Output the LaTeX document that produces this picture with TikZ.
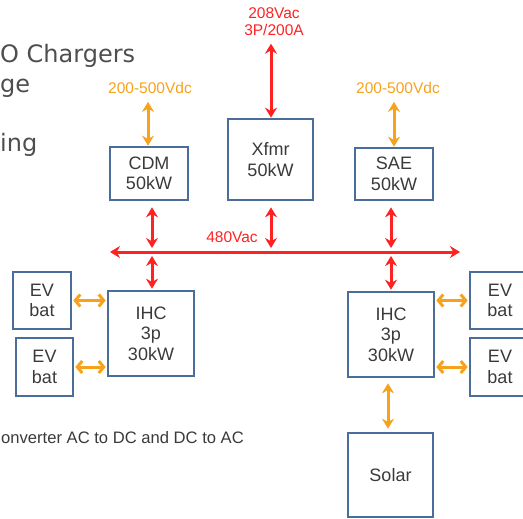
\documentclass[tikz,border=0pt]{standalone}
\usepackage{fontspec}
\setmainfont{Liberation Sans}
\newfontfamily\titlefont{DejaVu Sans}
\usetikzlibrary{arrows.meta}
\definecolor{boxblue}{HTML}{4A6D9A}
\definecolor{busred}{HTML}{FF2222}
\definecolor{dcorange}{HTML}{F7A21B}
\definecolor{txtgray}{HTML}{3A3A3A}

\begin{document}
\begin{tikzpicture}[x=1pt,y=-1pt,
  every node/.style={font=\fontsize{18}{20.5}\selectfont,text=txtgray,align=center,inner sep=0pt},
  blk/.style n args={2}{draw=boxblue,line width=2.6pt,minimum width=#1,minimum height=#2},
  lbl/.style={font=\fontsize{15.5}{17}\selectfont},
  ttl/.style={font=\titlefont\fontsize{24}{28}\selectfont,text=txtgray!90,anchor=base west},
  rarrow/.style={draw=busred,line width=3pt,{Stealth[length=10pt,width=12pt]}-{Stealth[length=10pt,width=12pt]}},
  oarrow/.style={draw=dcorange,line width=3pt,{Stealth[length=10pt,width=12pt]}-{Stealth[length=10pt,width=12pt]}},
  ohrrow/.style={draw=dcorange,line width=3pt,{Straight Barb[length=5pt,width=12pt]}-{Straight Barb[length=5pt,width=12pt]}}]
\useasboundingbox (0,0) rectangle (523,519);
\clip (0,0) rectangle (523,519);

% title lines
\node[ttl] (tline1) at (0,63) {O Chargers};
\node[ttl] (tline2) at (0,93) {ge};
\node[ttl] (tline3) at (0,152) {ing};
\node[anchor=west,font=\fontsize{16.6}{18}\selectfont] (note) at (1,438) {onverter AC to DC and DC to AC};

% converters
\node[blk={78pt}{53pt}] (cdm) at (149,173.5) {CDM\\50kW};
\node[blk={85pt}{81pt}] (xfmr) at (270.5,159.5) {Xfmr\\50kW};
\node[blk={78pt}{52pt}] (sae) at (394,174) {SAE\\50kW};
\node[blk={86pt}{85pt}] (ihcL) at (151,333.5) {IHC\\3p\\30kW};
\node[blk={86pt}{85pt}] (ihcR) at (391,334.5) {IHC\\3p\\30kW};
\node[blk={85pt}{84pt}] (solar) at (390.5,475) {Solar};

% batteries
\node[blk={58pt}{57pt}] (evL1) at (42,300.5) {EV\\bat};
\node[blk={57pt}{58pt}] (evL2) at (44.5,367) {EV\\bat};
\node[blk={60pt}{57pt}] (evR1) at (500,300.5) {EV\\bat};
\node[blk={60pt}{58pt}] (evR2) at (500,367) {EV\\bat};

% voltage labels
\node[lbl,text=dcorange] (vdcL) at (150,88) {200-500Vdc};
\node[lbl,text=dcorange] (vdcR) at (398,88) {200-500Vdc};
\node[lbl,text=busred] (grid) at (274,21.5) {208Vac\\3P/200A};
\node[lbl,text=busred] (busV) at (232,237) {480Vac};

% 480Vac bus
\coordinate (busW) at (110,252);
\coordinate (busE) at (460,252);
\coordinate (tapA) at (152,252);
\coordinate (tapB) at (271,252);
\coordinate (tapC) at (391,252);
\draw[rarrow] (busW) -- (busE);

\draw[rarrow,shorten <=6pt,shorten >=4pt] (cdm.south -| tapA) -- (tapA);
\draw[rarrow,shorten <=6pt,shorten >=4pt] (xfmr.south -| tapB) -- (tapB);
\draw[rarrow,shorten <=6pt,shorten >=4pt] (sae.south -| tapC) -- (tapC);
\draw[rarrow,shorten <=4pt,shorten >=1pt] (tapA) -- (ihcL.north -| tapA);
\draw[rarrow,shorten <=4pt,shorten >=1pt] (tapC) -- (ihcR.north -| tapC);
\draw[rarrow,shorten <=8pt] (grid.south -| tapB) -- (xfmr.north -| tapB);

% dc links
\draw[oarrow,shorten <=8pt] ([xshift=-2pt]vdcL.south) -- ([xshift=-2pt]vdcL.south |- cdm.north);
\draw[oarrow,shorten <=8pt] ([xshift=-4pt]vdcR.south) -- ([xshift=-4pt]vdcR.south |- sae.north);
\draw[ohrrow,shorten <=1pt,shorten >=1pt] (evL1.east) -- (evL1.east -| ihcL.west);
\draw[ohrrow,shorten <=1pt,shorten >=1pt] (evL2.east) -- (evL2.east -| ihcL.west);
\draw[ohrrow,shorten <=1pt,shorten >=1pt] (ihcR.east |- evR1.west) -- (evR1.west);
\draw[ohrrow,shorten <=1pt,shorten >=1pt] (ihcR.east |- evR2.west) -- (evR2.west);
\draw[oarrow,shorten <=5pt,shorten >=3pt] ([xshift=-3pt]ihcR.south) -- ([xshift=-3pt]ihcR.south |- solar.north);
\end{tikzpicture}
\end{document}
